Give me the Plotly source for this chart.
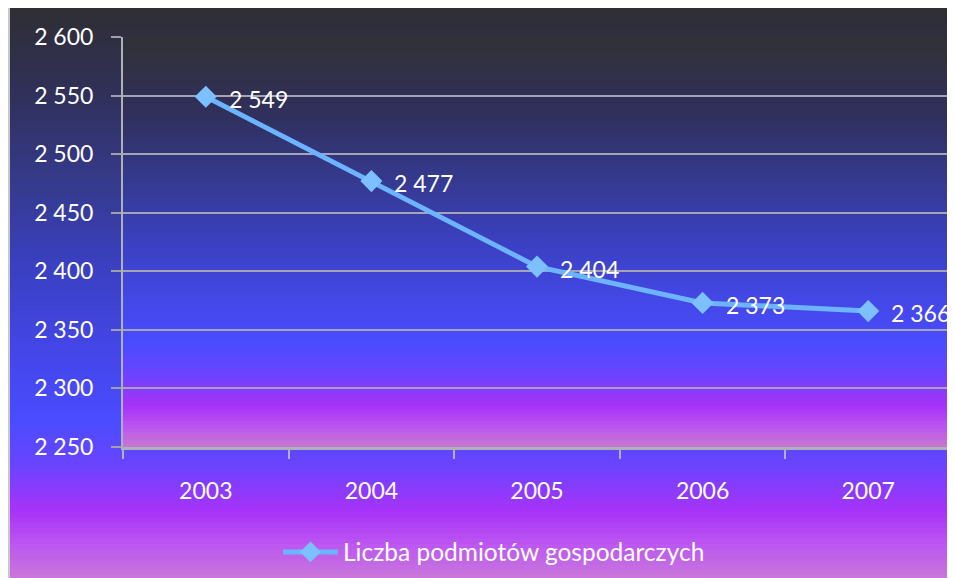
import plotly.graph_objects as go

# ---- data ----
years = ["2003", "2004", "2005", "2006", "2007"]
values = [2549, 2477, 2404, 2373, 2366]
value_labels = ["2 549", "2 477", "2 404", "2 373", "2 366"]
series_name = "Liczba podmiotów gospodarczych"
y_tick_vals = [2250, 2300, 2350, 2400, 2450, 2500, 2550, 2600]
y_tick_text = ["2 250", "2 300", "2 350", "2 400", "2 450", "2 500", "2 550", "2 600"]

# ---- geometry (figure pixels; page has an 8px body margin) ----
W, H = 947, 570
ML, MR, MT, MB = 115, 4, 29, 131
PW = W - ML - MR
PH = H - MT - MB

def px_x(px):
    return (px - ML) / PW

def px_y(py):
    return (H - MB - py) / PH

def hex2rgb(h):
    h = h.lstrip("#")
    return tuple(int(h[i:i + 2], 16) for i in (0, 2, 4))

def interp(stops, t):
    for i in range(len(stops) - 1):
        t0, c0 = stops[i]
        t1, c1 = stops[i + 1]
        if t0 <= t <= t1:
            f = 0 if t1 == t0 else (t - t0) / (t1 - t0)
            a, b = hex2rgb(c0), hex2rgb(c1)
            return "rgb(%d,%d,%d)" % tuple(round(a[k] + (b[k] - a[k]) * f) for k in range(3))
    return stops[-1][1]

outer_stops = [
    (0.0, "#2f2f34"), (0.15, "#30305a"), (0.30, "#353a8a"), (0.45, "#3a40c0"),
    (0.60, "#4446e8"), (0.72, "#4a4cff"), (0.80, "#6a44ff"), (0.88, "#a832f8"),
    (0.94, "#bd58f0"), (1.0, "#c878d8"),
]
plot_stops = [
    (0.0, "#313136"), (0.20, "#303060"), (0.35, "#353a90"), (0.50, "#3a40c0"),
    (0.65, "#4448e8"), (0.75, "#4a4cff"), (0.82, "#6a44ff"), (0.90, "#a832f8"),
    (0.95, "#bb55f0"), (1.0, "#c878d0"),
]

shapes = []

def gradient(x0, y0, x1, y1, stops, n=110):
    h = (y1 - y0) / n
    for i in range(n):
        ya = y0 + i * h
        yb = ya + h + 0.8
        shapes.append(dict(
            type="rect", xref="paper", yref="paper", layer="below",
            x0=px_x(x0), x1=px_x(x1), y0=px_y(ya), y1=px_y(min(yb, y1)),
            fillcolor=interp(stops, (i + 0.5) / n), line=dict(width=0),
        ))

gradient(2, 0, W + 2, H + 2, outer_stops)
gradient(ML, MT, W - MR, H - MB, plot_stops)
# left frame edge
shapes.append(dict(type="rect", xref="paper", yref="paper", layer="below",
                   x0=px_x(0), x1=px_x(2), y0=px_y(0), y1=px_y(H + 2),
                   fillcolor="#c8c8c8", line=dict(width=0)))

FONT = "Lato"

fig = go.Figure()
fig.add_trace(go.Scatter(
    x=years, y=values, mode="lines+markers", name=series_name,
    line=dict(color="#6cb4ff", width=5),
    marker=dict(symbol="diamond", size=17, color="#7cc0ff"),
    hoverinfo="skip",
))

annotations = []
for i, (v, lab) in enumerate(zip(values, value_labels)):
    annotations.append(dict(
        x=i, y=v, xref="x", yref="y", text=lab, showarrow=False,
        xanchor="left", yanchor="middle", xshift=21, yshift=-2,
        font=dict(family=FONT, size=23, color="white"),
    ))

fig.update_layout(
    width=W, height=H,
    margin=dict(l=ML, r=MR, t=MT, b=MB, pad=0, autoexpand=False),
    paper_bgcolor="white",
    plot_bgcolor="rgba(0,0,0,0)",
    shapes=shapes,
    annotations=annotations,
    font=dict(family=FONT, size=23, color="white"),
    showlegend=True,
    legend=dict(
        orientation="h", x=px_x(486), y=px_y(544), xanchor="center", yanchor="middle",
        font=dict(family=FONT, size=24.5, color="white"),
        bgcolor="rgba(0,0,0,0)", itemwidth=55,
    ),
    xaxis=dict(
        type="category", categoryorder="array", categoryarray=years,
        range=[-0.5, len(years) - 0.5], autorange=False,
        tickson="boundaries", ticks="outside", ticklen=9,
        tickcolor="#b0b0b8", tickwidth=2, tickangle=0, automargin=False,
        showline=True, linecolor="#b0b0b8", linewidth=3,
        showgrid=False, zeroline=False,
        tickfont=dict(family=FONT, size=23, color="white"),
        ticklabelstandoff=21, fixedrange=True,
    ),
    yaxis=dict(
        range=[2250, 2600], autorange=False, tickvals=y_tick_vals, ticktext=y_tick_text,
        ticks="outside", ticklen=10, tickcolor="#a0a0a8", tickwidth=2, automargin=False,
        showline=True, linecolor="#b0b0b8", linewidth=2,
        showgrid=True, gridcolor="#a4a4b4", gridwidth=2, zeroline=False,
        tickfont=dict(family=FONT, size=23, color="white"),
        ticklabelstandoff=13, fixedrange=True,
    ),
)

fig.write_html("out.html")
